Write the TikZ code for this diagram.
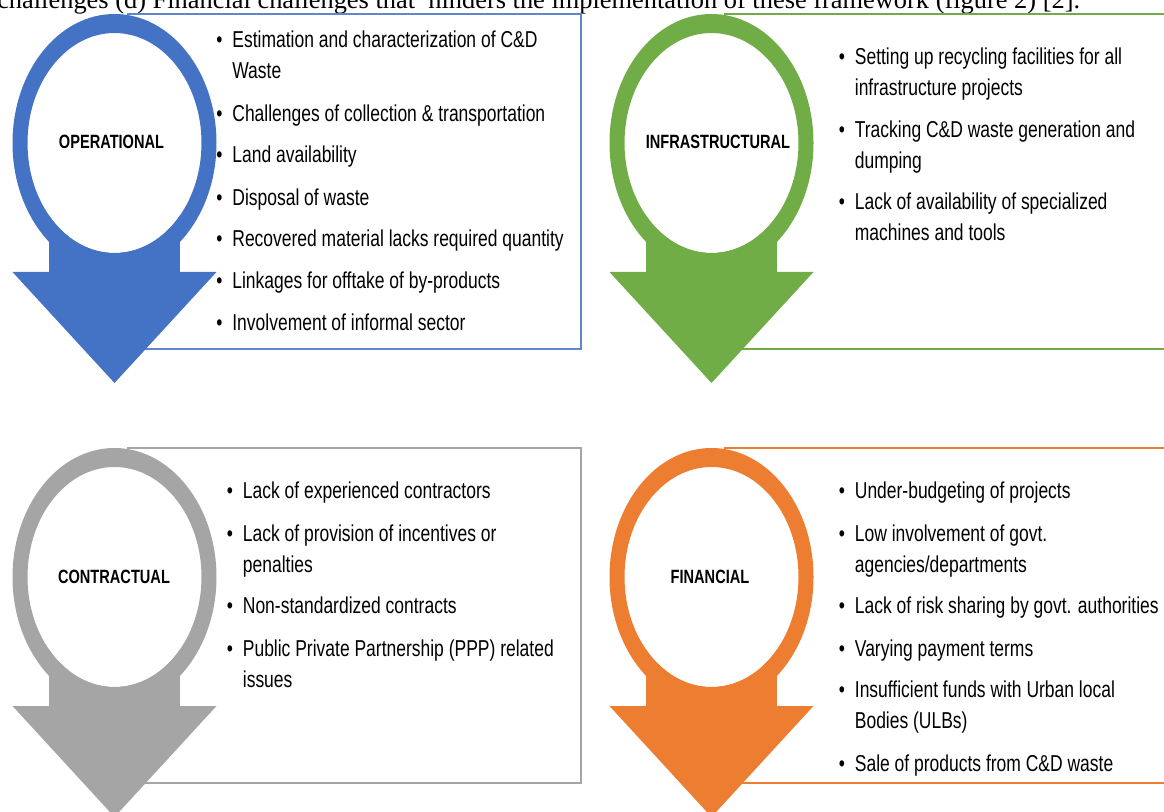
\documentclass[tikz,border=0pt]{standalone}
\usepackage{fontspec}
\setmainfont{Liberation Serif}
\newfontfamily\narrowfont{Liberation Sans}[FakeStretch=0.76]
\definecolor{opblue}{HTML}{4472C4}
\definecolor{infgreen}{HTML}{70AD47}
\definecolor{congray}{HTML}{A5A5A5}
\definecolor{finorange}{HTML}{ED7D31}
\newcommand{\itemfont}{\narrowfont\fontsize{17.25pt}{23.25pt}\selectfont}
\newcommand{\headfont}{\narrowfont\bfseries\fontsize{14.4pt}{17pt}\selectfont}
\newcommand{\itm}[1]{\textbullet\hspace{7.5pt}\begin{tabular}[t]{@{}l@{}}#1\end{tabular}}
\begin{document}
\begin{tikzpicture}[x=0.75pt, y=-0.75pt,
  panelbox/.style={line width=1.1pt},
  bullettext/.style={anchor=base west, inner sep=0pt, font=\itemfont},
  headtext/.style={inner sep=0pt, font=\headfont}]
\useasboundingbox (0,0) rectangle (1164,812);
\clip (0,0) rectangle (1164,812);
% caption line, cut off at the top
\node[anchor=base west, inner sep=0pt, font=\fontsize{19.8pt}{22pt}\selectfont] (caption) at (-3,8.5)
  {challenges (d) Financial challenges that~ hinders the implementation of these framework (figure 2) [2].};
% boxes
\draw[panelbox, opblue!85!white] (128,14) rectangle (581,349);
\draw[panelbox, infgreen] (725,14) rectangle (1200,349);
\draw[panelbox, congray] (128,448) rectangle (581,783);
\draw[panelbox, finorange] (725,448) rectangle (1200,783);
% ring + down arrow
\foreach \cx/\cy/\col in {114.5/143/opblue, 711.5/143/infgreen, 114.5/577/congray, 711.5/577/finorange}{
  \fill[\col] (\cx-65.5,\cy+60) rectangle (\cx+65.5,\cy+129);
  \fill[\col] (\cx-102,\cy+129) -- (\cx+102,\cy+129) -- (\cx,\cy+240) -- cycle;
  \fill[white] (\cx,\cy) ellipse [x radius=87, y radius=110];
  \fill[\col, even odd rule] (\cx,\cy) ellipse [x radius=102, y radius=129]
    (\cx,\cy) ellipse [x radius=87, y radius=110];
}
\node[headtext] (op) at (111.5,141.7) {OPERATIONAL};
\node[headtext] (inf) at (718,141.7) {INFRASTRUCTURAL};
\node[headtext] (con) at (114,577) {CONTRACTUAL};
\node[headtext] (fin) at (710,577) {FINANCIAL};
% operational
\node[bullettext] (op1) at (216,48) {\itm{Estimation and characterization of C\&D\\Waste}};
\node[bullettext] (op2) at (216,122) {\itm{Challenges of collection \& transportation}};
\node[bullettext] (op3) at (216,163) {\itm{Land availability}};
\node[bullettext] (op4) at (216,206) {\itm{Disposal of waste}};
\node[bullettext] (op5) at (216,247) {\itm{Recovered material lacks required quantity}};
\node[bullettext] (op6) at (216,289) {\itm{Linkages for offtake of by-products}};
\node[bullettext] (op7) at (216,331) {\itm{Involvement of informal sector}};
% infrastructural
\node[bullettext] (inf1) at (838.5,65) {\itm{Setting up recycling facilities for all\\infrastructure projects}};
\node[bullettext] (inf2) at (838.5,138) {\itm{Tracking C\&D waste generation and\\dumping}};
\node[bullettext] (inf3) at (838.5,210) {\itm{Lack of availability of specialized\\machines and tools}};
% contractual
\node[bullettext] (con1) at (226.5,499) {\itm{Lack of experienced contractors}};
\node[bullettext] (con2) at (226.5,541.5) {\itm{Lack of provision of incentives or\\penalties}};
\node[bullettext] (con3) at (226.5,614) {\itm{Non-standardized contracts}};
\node[bullettext] (con4) at (226.5,656.5) {\itm{Public Private Partnership (PPP) related\\issues}};
% financial
\node[bullettext] (fin1) at (838.5,499) {\itm{Under-budgeting of projects}};
\node[bullettext] (fin2) at (838.5,541.5) {\itm{Low involvement of govt.\\agencies/departments}};
\node[bullettext] (fin3) at (838.5,614) {\itm{Lack of risk sharing by govt. authorities}};
\node[bullettext] (fin4) at (838.5,656) {\itm{Varying payment terms}};
\node[bullettext] (fin5) at (838.5,697.5) {\itm{Insufficient funds with Urban local\\Bodies (ULBs)}};
\node[bullettext] (fin6) at (838.5,771) {\itm{Sale of products from C\&D waste}};
\end{tikzpicture}
\end{document}
